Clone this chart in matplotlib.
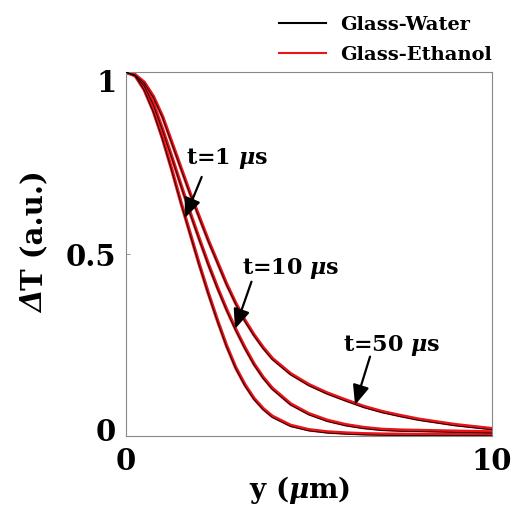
import matplotlib
matplotlib.use("Agg")
import matplotlib.pyplot as plt
from matplotlib.lines import Line2D
from matplotlib.transforms import ScaledTranslation

plt.rcParams['font.family'] = 'DejaVu Serif'
plt.rcParams['font.weight'] = 'bold'
plt.rcParams['axes.labelweight'] = 'bold'
plt.rcParams['mathtext.fontset'] = 'custom'
plt.rcParams['mathtext.it'] = 'DejaVu Serif:italic:bold'
plt.rcParams['mathtext.rm'] = 'DejaVu Serif:bold'

# position y (um)
y_pos = [0, 0.25, 0.5, 0.75, 1.0, 1.25, 1.5, 1.75, 2.0, 2.25, 2.5, 2.75, 3.0,
         3.25, 3.5, 3.75, 4.0, 4.5, 5.0, 5.5, 6.0, 6.5, 7.0, 7.5, 8.0, 9.0, 10.0]

# Glass-Water
water_1us = [1, 0.99, 0.95, 0.89, 0.815, 0.73, 0.64, 0.555, 0.47, 0.39, 0.315, 0.245, 0.185,
             0.138, 0.10, 0.072, 0.051, 0.026, 0.014, 0.008, 0.005, 0.003, 0.002, 0.0015, 0.001, 0.0007, 0.0005]
water_10us = [1, 0.99, 0.962, 0.91, 0.84, 0.765, 0.688, 0.612, 0.54, 0.47, 0.405, 0.345, 0.29,
              0.24, 0.195, 0.158, 0.128, 0.085, 0.058, 0.04, 0.028, 0.02, 0.015, 0.013, 0.012, 0.01, 0.008]
water_50us = [1, 0.992, 0.97, 0.93, 0.875, 0.805, 0.735, 0.665, 0.60, 0.535, 0.475, 0.415, 0.362,
              0.315, 0.275, 0.24, 0.21, 0.168, 0.138, 0.115, 0.096, 0.078, 0.064, 0.053, 0.043, 0.028, 0.017]

# Glass-Ethanol
ethanol_1us = [1, 0.991, 0.952, 0.893, 0.818, 0.733, 0.643, 0.558, 0.473, 0.393, 0.318, 0.248, 0.188,
               0.141, 0.103, 0.075, 0.054, 0.029, 0.017, 0.011, 0.008, 0.006, 0.005, 0.0045, 0.004, 0.0035, 0.003]
ethanol_10us = [1, 0.991, 0.964, 0.913, 0.843, 0.768, 0.691, 0.615, 0.543, 0.473, 0.408, 0.348, 0.293,
                0.243, 0.198, 0.161, 0.131, 0.088, 0.061, 0.043, 0.031, 0.023, 0.018, 0.016, 0.015, 0.013, 0.011]
ethanol_50us = [1, 0.993, 0.972, 0.933, 0.878, 0.808, 0.738, 0.668, 0.603, 0.538, 0.478, 0.418, 0.365,
                0.318, 0.278, 0.243, 0.213, 0.171, 0.141, 0.118, 0.099, 0.081, 0.067, 0.056, 0.046, 0.031, 0.02]

water_curves = [water_1us, water_10us, water_50us]
ethanol_curves = [ethanol_1us, ethanol_10us, ethanol_50us]

red = '#e8141a'

fig = plt.figure(figsize=(5.14, 5.19), dpi=100)
ax = fig.add_axes([0.245, 0.160, 0.712, 0.701])

for i in range(3):
    ax.plot(y_pos, ethanol_curves[i], color=red, lw=2.5, solid_joinstyle='round', zorder=2)
    ax.plot(y_pos, water_curves[i], color='black', lw=0.6, solid_joinstyle='round', zorder=3)

ax.set_xlim(0, 10)
ax.set_ylim(0, 1)
ax.set_xticks([0, 10])
ax.set_xticklabels(['0', '10'])
ax.set_yticks([0, 0.5, 1])
ax.set_yticklabels(['0', '0.5', '1'])
ax.tick_params(direction='in', length=3, width=0.6, color='#888888', labelsize=21)
ax.tick_params(axis='x', pad=8)
ax.tick_params(axis='y', pad=7)
for s in ax.spines.values():
    s.set_color('#888888')
    s.set_linewidth(0.8)

# end tick labels sit inside the axis range, as in the original
ylabs = ax.get_yticklabels()
ylabs[0].set_transform(ylabs[0].get_transform() + ScaledTranslation(0, 5 / 72, fig.dpi_scale_trans))
ylabs[2].set_transform(ylabs[2].get_transform() + ScaledTranslation(0, -6 / 72, fig.dpi_scale_trans))

ax.set_xlabel(r'y ($\mu$m)', fontsize=20)
ax.xaxis.set_label_coords(0.475, -0.105)

# y label: italic Delta followed by upright text
dtext = fig.text(0.068, 0.397, 'Δ', rotation=90, fontsize=21, fontweight='bold',
                 style='italic', ha='center', va='bottom')
ax.annotate('T (a.u.)', xy=(0.5, 1.0), xycoords=dtext, rotation=90, fontsize=21,
            fontweight='bold', ha='center', va='bottom', annotation_clip=False)

# annotations
arrow = dict(arrowstyle='-|>,head_length=0.6,head_width=0.25', color='black', lw=1.6,
             mutation_scale=20, shrinkA=0, shrinkB=0)
ax.annotate('', xy=(1.61, 0.599), xytext=(2.07, 0.712), arrowprops=arrow)
ax.annotate('', xy=(2.98, 0.294), xytext=(3.43, 0.424), arrowprops=arrow)
ax.annotate('', xy=(6.26, 0.085), xytext=(6.67, 0.218), arrowprops=arrow)
ax.text(1.64, 0.728, r't=1 $\mu$s', fontsize=16, ha='left', va='bottom')
ax.text(3.17, 0.426, r't=10 $\mu$s', fontsize=16, ha='left', va='bottom')
ax.text(5.93, 0.215, r't=50 $\mu$s', fontsize=16, ha='left', va='bottom')

leg_handles = [Line2D([], [], color='black', lw=1.5), Line2D([], [], color=red, lw=1.5)]
fig.legend(leg_handles, ['Glass-Water', 'Glass-Ethanol'], loc='upper right',
           bbox_to_anchor=(0.983, 0.995), frameon=False, fontsize=14,
           handlelength=2.4, handletextpad=0.7, labelspacing=0.6, borderpad=0.2)

fig.savefig('out.png', dpi=100)
